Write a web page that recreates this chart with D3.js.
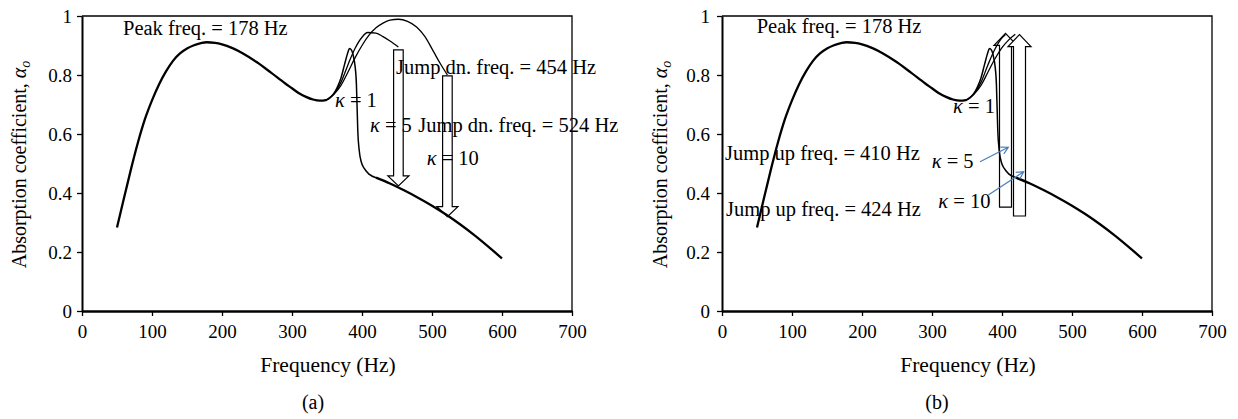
<!DOCTYPE html>
<html>
<head>
<meta charset="utf-8">
<script src="https://cdn.jsdelivr.net/npm/d3@7"></script>
<style>
  html, body { margin: 0; padding: 0; background: #fff; }
  svg { display: block; }
  text { font-family: "Liberation Serif", "Times New Roman", serif; fill: #000; }
</style>
</head>
<body>
<svg id="chart" width="1238" height="419"></svg>
<script>
// ---------------- DATA ----------------
const xTickValues = [0, 100, 200, 300, 400, 500, 600, 700];
const yTickValues = [0, 0.2, 0.4, 0.6, 0.8, 1];

// common part of all three curves (kappa = 1, 5, 10)
const freqBase  = [50, 60, 70, 80, 90, 100, 110, 120, 130, 140, 150, 160, 170, 178, 190, 200, 215, 230, 250, 270, 290, 300, 310, 320, 330, 340, 350];
const alphaBase = [0.283, 0.383, 0.481, 0.572, 0.651, 0.714, 0.768, 0.812, 0.848, 0.873, 0.89, 0.901, 0.908, 0.911, 0.909, 0.904, 0.891, 0.873, 0.843, 0.808, 0.772, 0.755, 0.738, 0.726, 0.717, 0.713, 0.716];

// kappa = 1 (continuous, steep drop)
const freqK1  = [350, 355, 360, 365, 370, 375, 380, 382, 385, 388, 390, 392, 393, 394, 396, 399, 403, 410, 420];
const alphaK1 = [0.716, 0.724, 0.738, 0.76, 0.79, 0.835, 0.878, 0.89, 0.884, 0.86, 0.832, 0.77, 0.69, 0.61, 0.545, 0.505, 0.484, 0.464, 0.452];

// shared lower branch
const freqLow  = [420, 440, 460, 480, 500, 520, 540, 560, 580, 600];
const alphaLow = [0.452, 0.432, 0.409, 0.384, 0.357, 0.327, 0.294, 0.258, 0.219, 0.178];

// (a) upper branches, frequency sweep up
const freqK5Up   = [350, 360, 370, 380, 390, 400, 408, 420, 430, 440, 452];
const alphaK5Up  = [0.716, 0.738, 0.775, 0.835, 0.89, 0.928, 0.944, 0.942, 0.93, 0.915, 0.895];
const freqK10Up  = [350, 360, 370, 380, 390, 400, 410, 420, 430, 440, 452, 465, 478, 490, 502, 512, 522];
const alphaK10Up = [0.716, 0.735, 0.765, 0.81, 0.858, 0.9, 0.935, 0.96, 0.976, 0.986, 0.989, 0.982, 0.963, 0.93, 0.88, 0.838, 0.80];

// (b) upper branches, frequency sweep down
const freqK5UpB   = [350, 360, 370, 380, 390, 398, 405];
const alphaK5UpB  = [0.716, 0.738, 0.775, 0.835, 0.888, 0.92, 0.937];
const freqK10UpB  = [350, 360, 370, 380, 390, 400, 410, 419];
const alphaK10UpB = [0.716, 0.735, 0.765, 0.81, 0.855, 0.893, 0.92, 0.938];

// jump arrows
const downArrowFreq = [452, 522];
const downArrowTop  = [0.885, 0.797];
const downArrowTip  = [0.424, 0.32];
const upArrowFreq   = [405, 425];
const upArrowBottom = [0.352, 0.322];
const upArrowTip    = [0.941, 0.937];

// ---------------- LAYOUT ----------------
const W = 490, H = 295, TOP = 16;
const panels = [
  { id: "a", left: 82, caption: "(a)", capX: 313 },
  { id: "b", left: 722, caption: "(b)", capX: 937 }
];

const svg = d3.select("#chart");
svg.append("rect").attr("width", 1238).attr("height", 419).attr("fill", "#fff");

const x = d3.scaleLinear().domain([0, 700]).range([0, W]);
const y = d3.scaleLinear().domain([0, 1]).range([H, 0]);
const line = d3.line().x(d => x(d[0])).y(d => y(d[1])).curve(d3.curveMonotoneX);
const zip = (a, b) => a.map((v, i) => [v, b[i]]);

function blockArrow(g, f, aStart, aTip, shaftHalf, headHalf, headLen) {
  const xc = x(f), y0 = y(aStart), yt = y(aTip);
  const dir = Math.sign(yt - y0);
  const yb = yt - dir * headLen;
  const pts = [
    [xc - shaftHalf, y0], [xc + shaftHalf, y0], [xc + shaftHalf, yb], [xc + headHalf, yb],
    [xc, yt], [xc - headHalf, yb], [xc - shaftHalf, yb]
  ];
  g.append("path").attr("d", "M" + pts.map(p => p.join(",")).join("L") + "Z")
    .attr("fill", "#fff").attr("stroke", "#000").attr("stroke-width", 1.2)
    .attr("stroke-linejoin", "miter");
}

function pointer(g, f0, a0, f1, a1) {
  const x0 = x(f0), y0 = y(a0), x1 = x(f1), y1 = y(a1);
  const ang = Math.atan2(y1 - y0, x1 - x0), L = 8, spread = 0.5;
  const h1 = [x1 - L * Math.cos(ang - spread), y1 - L * Math.sin(ang - spread)];
  const h2 = [x1 - L * Math.cos(ang + spread), y1 - L * Math.sin(ang + spread)];
  g.append("path")
    .attr("d", `M${x0},${y0}L${x1},${y1}M${h1[0]},${h1[1]}L${x1},${y1}L${h2[0]},${h2[1]}`)
    .attr("fill", "none").attr("stroke", "#4a7ebb").attr("stroke-width", 1.2);
}

function label(g, f, a, parts, size) {
  const t = g.append("text").attr("x", x(f)).attr("y", y(a)).style("font-size", (size || 20.5) + "px");
  parts.forEach(p => {
    const ts = t.append("tspan").text(p.t);
    if (p.i) ts.style("font-style", "italic");
  });
  return t;
}
const kappa = n => [{ t: "κ", i: true }, { t: " = " + n }];

panels.forEach(P => {
  const g = svg.append("g").attr("transform", `translate(${P.left},${TOP})`);

  // frame (top/right)
  g.append("path").attr("d", `M0,0H${W}V${H}`).attr("fill", "none")
    .attr("stroke", "#000").attr("stroke-width", 1.3);

  // axes
  const ax = g.append("g").attr("transform", `translate(0,${H})`)
    .call(d3.axisBottom(x).tickValues(xTickValues).tickSize(5).tickSizeOuter(0).tickPadding(9).tickFormat(d3.format("d")));
  ax.select(".domain").attr("stroke-width", 2.6);
  ax.selectAll(".tick line").attr("stroke-width", 1.3);
  ax.selectAll("text").style("font-size", "19px").style("font-family", "Liberation Serif");

  const ay = g.append("g")
    .call(d3.axisLeft(y).tickValues(yTickValues).tickSize(5).tickSizeOuter(0).tickPadding(P.id === "a" ? 5 : 7).tickFormat(d => String(d)));
  ay.select(".domain").attr("stroke-width", 2);
  ay.selectAll(".tick line").attr("stroke-width", 1.3);
  ay.selectAll("text").style("font-size", "19px").style("font-family", "Liberation Serif");

  // axis titles
  g.append("text").attr("x", W / 2 + 1).attr("y", 356).attr("text-anchor", "middle")
    .style("font-size", "21.5px").text("Frequency (Hz)");
  const yt = g.append("text").attr("transform", `translate(${P.id === "a" ? -56.5 : -55.5},${H / 2 + 1}) rotate(-90)`)
    .attr("text-anchor", "middle").style("font-size", "20px");
  yt.append("tspan").text("Absorption coefficient, ");
  yt.append("tspan").style("font-style", "italic").text("α");
  yt.append("tspan").style("font-style", "italic").style("font-size", "14px").attr("dy", 4).text("o");

  svg.append("text").attr("x", P.capX).attr("y", 409).attr("text-anchor", "middle")
    .style("font-size", "20px").text(P.caption);

  // arrows (white fill, below curves)
  if (P.id === "a") {
    downArrowFreq.forEach((f, i) => blockArrow(g, f, downArrowTop[i], downArrowTip[i], 4.8, 10.5, 10));
  } else {
    upArrowFreq.forEach((f, i) => blockArrow(g, f, upArrowBottom[i], upArrowTip[i], 6, 11.5, 12));
  }

  // curves
  const thin = 1.3, thick = 2.3;
  const draw = (pts, w) => g.append("path").attr("d", line(pts)).attr("fill", "none")
    .attr("stroke", "#000").attr("stroke-width", w).attr("stroke-linejoin", "round");
  if (P.id === "a") {
    draw(zip(freqK5Up, alphaK5Up), thin);
    draw(zip(freqK10Up, alphaK10Up), thin);
  } else {
    draw(zip(freqK5UpB, alphaK5UpB), thin);
    draw(zip(freqK10UpB, alphaK10UpB), thin);
  }
  draw(zip(freqK1, alphaK1), 1.5);
  draw(zip(freqBase, alphaBase), thick);
  draw(zip(freqLow, alphaLow), thick);

  // annotations
  if (P.id === "a") {
    label(g, 58.6, 0.936, [{ t: "Peak freq. = 178 Hz" }]);
    label(g, 448.6, 0.803, [{ t: "Jump dn. freq. = 454 Hz" }]);
    label(g, 361.4, 0.691, kappa(1));
    label(g, 411.4, 0.608, kappa(5));
    label(g, 480.4, 0.608, [{ t: "Jump dn. freq. = 524 Hz" }]);
    label(g, 492.4, 0.495, kappa(10));
  } else {
    label(g, 49.6, 0.941, [{ t: "Peak freq. = 178 Hz" }]);
    label(g, 330, 0.671, kappa(1));
    label(g, 4.3, 0.512, [{ t: "Jump up freq. = 410 Hz" }]);
    label(g, 299.6, 0.485, kappa(5));
    label(g, 5.7, 0.322, [{ t: "Jump up freq. = 424 Hz" }]);
    label(g, 309, 0.349, kappa(10));
    pointer(g, 368.6, 0.506, 409, 0.555);
    pointer(g, 380.5, 0.393, 431, 0.472);
  }
});
</script>
</body>
</html>
